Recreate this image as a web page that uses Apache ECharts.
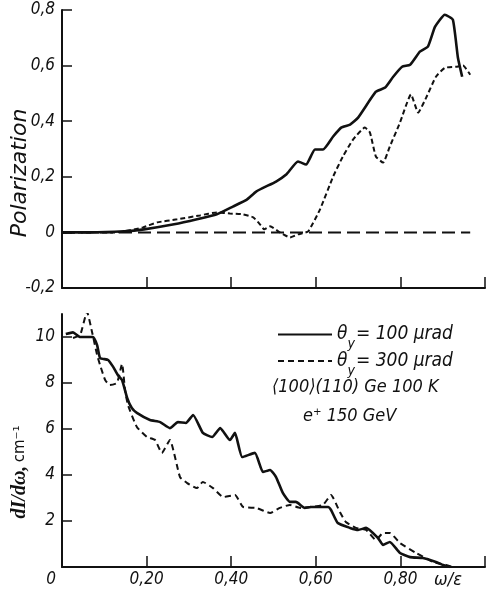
<!DOCTYPE html>
<html>
<head>
<meta charset="utf-8">
<script src="https://cdn.jsdelivr.net/npm/echarts@6/dist/echarts.min.js"></script>
<style>
html,body{margin:0;padding:0;background:#fff;}
#c{width:486px;height:597px;}
</style>
</head>
<body>
<div id="c"></div>
<script>
// ---- data ----
// Polarization, theta_y = 100 urad (solid)
const pol100 = [
  [0,0],[0.066,0],[0.147,0.004],[0.194,0.011],[0.265,0.029],[0.319,0.047],[0.366,0.065],
  [0.404,0.093],[0.437,0.118],[0.459,0.147],[0.506,0.183],[0.530,0.208],[0.558,0.255],
  [0.577,0.244],[0.598,0.298],[0.617,0.298],[0.641,0.345],[0.660,0.377],[0.681,0.388],
  [0.700,0.413],[0.742,0.506],[0.764,0.521],[0.783,0.560],[0.804,0.596],[0.823,0.603],
  [0.846,0.650],[0.865,0.668],[0.882,0.740],[0.905,0.783],[0.924,0.765],[0.936,0.628],
  [0.946,0.560]
];
// Polarization, theta_y = 300 urad (dotted)
const pol300 = [
  [0,0],[0.13,0],[0.191,0.018],[0.225,0.036],[0.272,0.047],[0.326,0.061],[0.366,0.072],
  [0.397,0.068],[0.428,0.065],[0.452,0.054],[0.468,0.029],[0.478,0.011],[0.492,0.022],
  [0.515,0],[0.539,-0.018],[0.558,-0.007],[0.582,0.004],[0.610,0.083],[0.641,0.201],
  [0.664,0.273],[0.688,0.334],[0.716,0.377],[0.728,0.359],[0.742,0.273],[0.759,0.251],
  [0.775,0.309],[0.799,0.395],[0.825,0.496],[0.842,0.431],[0.861,0.485],[0.884,0.560],
  [0.905,0.592],[0.934,0.596],[0.948,0.600],[0.965,0.567]
];
// Zero reference (long dashes)
const polZero = [[0,0],[0.965,0]];
// dI/dw, theta_y = 100 urad (solid)
const int100 = [
  [0.009,10.13],[0.026,10.2],[0.043,10.0],[0.073,10.0],[0.083,9.65],[0.090,9.09],
  [0.109,9.0],[0.121,8.7],[0.132,8.35],[0.142,8.13],[0.154,7.35],[0.165,6.91],
  [0.177,6.70],[0.208,6.39],[0.232,6.30],[0.255,6.04],[0.274,6.30],[0.293,6.26],
  [0.310,6.61],[0.333,5.83],[0.355,5.65],[0.374,6.04],[0.397,5.52],[0.409,5.83],
  [0.426,4.78],[0.456,4.96],[0.475,4.13],[0.492,4.22],[0.506,3.91],[0.522,3.22],
  [0.539,2.83],[0.553,2.83],[0.574,2.57],[0.589,2.61],[0.629,2.61],[0.636,2.48],
  [0.652,1.91],[0.681,1.70],[0.700,1.61],[0.719,1.70],[0.747,1.26],[0.759,0.96],
  [0.775,1.09],[0.799,0.61],[0.823,0.43],[0.853,0.39],[0.884,0.22],[0.901,0.09],[0.917,0]
];
// dI/dw, theta_y = 300 urad (dashed)
const int300 = [
  [0.026,9.96],[0.043,10.09],[0.059,11.1],[0.071,10.22],[0.083,9.22],[0.090,8.78],
  [0.102,8.13],[0.113,7.91],[0.130,8.0],[0.142,8.83],[0.149,7.70],[0.156,7.04],
  [0.177,6.09],[0.201,5.65],[0.220,5.52],[0.236,4.96],[0.255,5.52],[0.279,3.91],
  [0.296,3.65],[0.319,3.43],[0.333,3.70],[0.357,3.43],[0.381,3.04],[0.409,3.13],
  [0.428,2.61],[0.459,2.57],[0.492,2.35],[0.515,2.57],[0.539,2.70],[0.563,2.57],
  [0.586,2.61],[0.617,2.70],[0.636,3.13],[0.657,2.39],[0.671,1.96],[0.695,1.70],
  [0.719,1.61],[0.742,1.17],[0.759,1.48],[0.775,1.48],[0.799,1.04],[0.837,0.61],
  [0.877,0.22],[0.908,0.09],[0.924,0]
];
const xTicks = [0.2, 0.4, 0.6, 0.8, 1.0];
const xLabels = [0, 0.2, 0.4, 0.6, 0.8, 1.0];
const polTicks = [-0.2, 0, 0.2, 0.4, 0.6, 0.8];
const intTicks = [2, 4, 6, 8, 10];
const name100 = '100';
const name300 = '300';

const FONT = "'Liberation Sans Narrow','DejaVu Sans Condensed','Liberation Sans',sans-serif";
const ink = '#111';

const chart = echarts.init(document.getElementById('c'), null, {renderer: 'canvas'});

function axisLineCommon() {
  return {show: true, onZero: false, lineStyle: {color: ink, width: 2}};
}
function fmtX(v) {
  if (Math.abs(v) < 1e-9) return '{z|0}';
  if (Math.abs(v - 1) < 1e-9) return '{w|ω/ε}';
  return v.toFixed(2).replace('.', ',');
}
function fmtPol(v) {
  if (Math.abs(v) < 1e-9) return '0';
  return v.toFixed(1).replace('.', ',');
}
const labelStyle = {color: ink, fontFamily: FONT, fontStyle: 'italic', fontSize: 17};

const legendRich = {
  t: {fontFamily: FONT, fontStyle: 'italic', fontSize: 19, color: ink, lineHeight: 34, verticalAlign: 'middle'},
  s: {fontFamily: FONT, fontStyle: 'italic', fontSize: 14, color: ink, lineHeight: 34, verticalAlign: 'bottom', padding: [0, 1, 0, 0]}
};

const option = {
  animation: false,
  backgroundColor: '#fff',
  grid: [
    {left: 62, right: 1, top: 10, bottom: 309, containLabel: false},
    {left: 62, right: 1, top: 314, bottom: 30, containLabel: false}
  ],
  xAxis: [
    {
      gridIndex: 0, type: 'value', min: 0, max: 1,
      axisLine: axisLineCommon(),
      axisTick: {show: true, inside: true, length: 11, lineStyle: {color: ink, width: 1.5}, customValues: xTicks},
      axisLabel: {show: false},
      splitLine: {show: false}
    },
    {
      gridIndex: 1, type: 'value', min: 0, max: 1,
      axisLine: axisLineCommon(),
      axisTick: {show: true, inside: true, length: 11, lineStyle: {color: ink, width: 1.5}, customValues: xTicks},
      axisLabel: Object.assign({show: true, margin: 4, customValues: xLabels, formatter: fmtX,
        hideOverlap: false, showMinLabel: true, showMaxLabel: true,
        rich: {
          z: Object.assign({}, labelStyle, {padding: [0, 22, 0, 0]}),
          w: Object.assign({}, labelStyle, {fontSize: 18, padding: [0, 74, 0, 0]})
        }}, labelStyle),
      splitLine: {show: false}
    }
  ],
  yAxis: [
    {
      gridIndex: 0, type: 'value', min: -0.2, max: 0.8, interval: 0.2,
      axisLine: axisLineCommon(),
      axisTick: {show: true, inside: true, length: 10, lineStyle: {color: ink, width: 1.5}, customValues: polTicks},
      axisLabel: Object.assign({show: true, margin: 7, customValues: polTicks, formatter: fmtPol,
        showMinLabel: true, showMaxLabel: true}, labelStyle),
      splitLine: {show: false}
    },
    {
      gridIndex: 1, type: 'value', min: 0, max: 11,
      axisLine: axisLineCommon(),
      axisTick: {show: true, inside: true, length: 10, lineStyle: {color: ink, width: 1.5}, customValues: intTicks},
      axisLabel: Object.assign({show: true, margin: 7, customValues: intTicks,
        formatter: function (v) { return String(Math.round(v)); }}, labelStyle),
      splitLine: {show: false}
    }
  ],
  legend: {
    orient: 'vertical', left: 277, top: 325, itemWidth: 54, itemHeight: 10, itemGap: 0,
    padding: 0, selectedMode: false,
    itemStyle: {opacity: 0, borderWidth: 0},
    data: [name100, name300],
    formatter: function (n) {
      return '{t|θ}{s|y}{t|= ' + n + ' μrad}';
    },
    textStyle: {rich: legendRich}
  },
  series: [
    {
      name: name100, type: 'line', xAxisIndex: 1, yAxisIndex: 1, data: int100,
      symbol: 'none', smooth: 0.15, lineStyle: {color: ink, width: 2.6, type: 'solid'}, itemStyle: {color: ink}
    },
    {
      name: name300, type: 'line', xAxisIndex: 1, yAxisIndex: 1, data: int300,
      symbol: 'none', smooth: 0.15, lineStyle: {color: ink, width: 2, type: [6, 4]}, itemStyle: {color: ink}
    },
    {
      name: name100, type: 'line', xAxisIndex: 0, yAxisIndex: 0, data: pol100,
      symbol: 'none', smooth: 0.15, lineStyle: {color: ink, width: 2.6, type: 'solid'}, itemStyle: {color: ink}
    },
    {
      name: name300, type: 'line', xAxisIndex: 0, yAxisIndex: 0, data: pol300,
      symbol: 'none', smooth: 0.15, lineStyle: {color: ink, width: 2, type: [5, 3]}, itemStyle: {color: ink}
    },
    {
      name: 'zero', type: 'line', xAxisIndex: 0, yAxisIndex: 0, data: polZero,
      symbol: 'none', lineStyle: {color: ink, width: 2, type: [13, 6]}, itemStyle: {color: ink}
    }
  ],
  graphic: [
    {
      type: 'text', x: 20, y: 173, rotation: Math.PI / 2,
      style: {text: 'Polarization', fill: ink, font: "italic 22px 'DejaVu Sans',sans-serif",
        align: 'center', verticalAlign: 'middle'}
    },
    {
      type: 'text', x: 20, y: 472, rotation: Math.PI / 2,
      style: {text: '{a|dI/dω,} {b|cm⁻¹}', align: 'center', verticalAlign: 'middle',
        rich: {
          a: {fill: ink, font: "italic bold 20px 'Liberation Serif',serif"},
          b: {fill: ink, font: "15px 'DejaVu Sans',sans-serif"}
        }}
    },
    {
      type: 'text', left: 272, top: 378,
      style: {text: '⟨100⟩(110) Ge 100 K', fill: ink, font: "italic 18px " + FONT}
    },
    {
      type: 'text', left: 303, top: 407,
      style: {text: 'e⁺ 150 GeV', fill: ink, font: "italic 18px " + FONT}
    }
  ]
};
chart.setOption(option);
</script>
</body>
</html>
